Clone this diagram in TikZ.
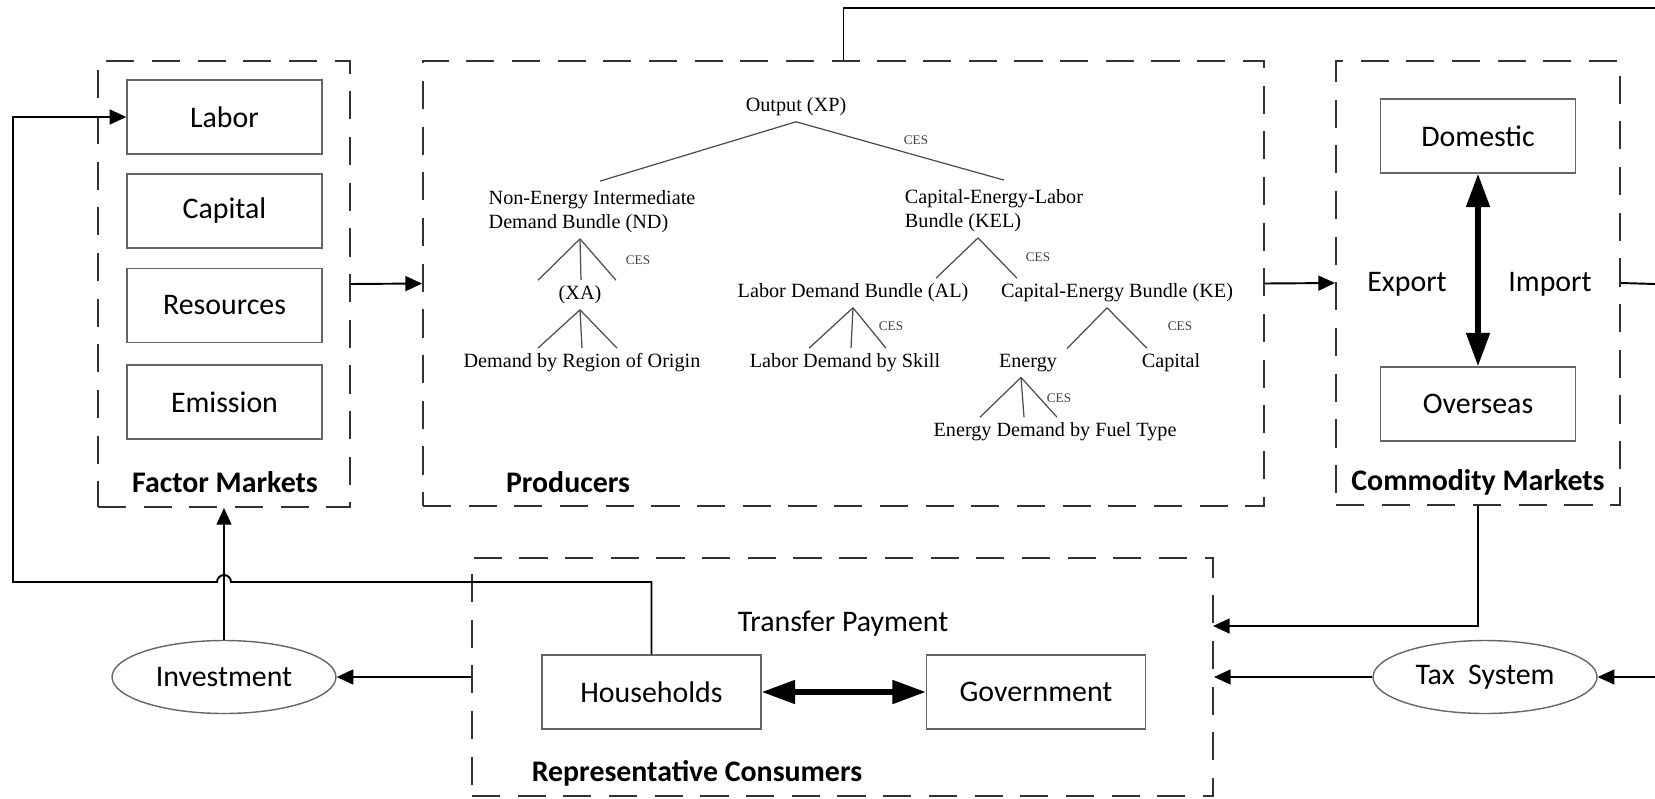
\documentclass[tikz,border=0pt]{standalone}
\usepackage{fontspec}
\setmainfont{Carlito}
\newfontfamily\treefont{Liberation Serif}
\usetikzlibrary{arrows.meta}
\usetikzlibrary{positioning}
\usetikzlibrary{fit, calc, shapes.geometric}

\tikzset{
  group/.style={draw=black!80, line width=1.1pt, dash pattern=on 16pt off 10pt, inner sep=0pt},
  unit/.style={draw=black!60, line width=0.8pt, minimum width=3.9cm, minimum height=1.48cm, font=\fontsize{17}{20}\selectfont},
  oval/.style={ellipse, draw=black!60, line width=0.8pt, minimum width=4.48cm, minimum height=1.46cm, font=\fontsize{17}{20}\selectfont},
  title/.style={font=\fontsize{17}{20}\selectfont\bfseries},
  plain/.style={font=\fontsize{17}{20}\selectfont},
  leaf/.style={font=\treefont\fontsize{11.5}{13.8}\selectfont, inner sep=3pt, align=left},
  ces/.style={font=\treefont\fontsize{7.5}{9}\selectfont, text=black!75},
  branch/.style={draw=black!70, line width=0.7pt},
  link/.style={draw=black, line width=1.1pt},
  flow/.style={link, -{Triangle[length=9.5pt,width=8.5pt]}},
  trade/.style={draw=black, line width=3pt, {Triangle[length=19pt,width=13pt]}-{Triangle[length=19pt,width=13pt]}}
}

\begin{document}
\begin{tikzpicture}[x=0.02cm,y=-0.02cm]
\useasboundingbox (0,0) rectangle (1655,798);

% market and agent groups
\node[group, fit={(98,61) (350,507)}] (fm) {};
\node[group, fit={(423,61) (1264,506)}] (prod) {};
\node[group, fit={(1336,61) (1620,505)}] (cm) {};
\node[group, fit={(472,558) (1213,796)}] (rc) {};

\node[title] (fmtitle) at (225,482) {Factor Markets};
\node[title] (prodtitle) at (568,482) {Producers};
\node[title] (cmtitle) at (1478,482) {Commodity Markets};
\node[title] (rctitle) at (697,773) {Representative Consumers};

% factor markets
\node[unit] (labor) at (224.5,117) {Labor};
\node[unit] (capital) at (224.5,211) {Capital};
\node[unit] (resources) at (224.5,305.5) {Resources};
\node[unit] (emission) at (224.5,402) {Emission};

% commodity markets
\node[unit] (dom) at (1478,136) {Domestic};
\node[unit] (ovs) at (1478,404) {Overseas};
\node[plain] (export) at (1407,284) {Export};
\node[plain] (import) at (1550,284) {Import};
\draw[trade] (dom.south) -- (ovs.north);

% representative consumers
\node[unit, minimum width=4.38cm] (hh) at (651.5,692) {Households};
\node[unit, minimum width=4.38cm] (gov) at (1036,692) {Government};
\node[plain] (transfer) at (843,624) {Transfer Payment};
\draw[trade] (hh.east) -- (gov.west);

\node[oval] (inv) at (224,677) {Investment};
\node[oval] (tax) at (1485,677) {Tax\ \ System};

% production tree
\node[leaf] (xp) at (796,107) {Output (XP)};
\node[leaf] (nd) at (592,212) {Non-Energy Intermediate\\Demand Bundle (ND)};
\node[leaf] (kel) at (994,211) {Capital-Energy-Labor\\Bundle (KEL)};
\node[leaf] (xa) at (580,295) {(XA)};
\node[leaf] (reg) at (582,363) {Demand by Region of Origin};
\node[leaf] (al) at (853,293) {Labor Demand Bundle (AL)};
\node[leaf] (ke) at (1117,293) {Capital-Energy Bundle (KE)};
\node[leaf] (skill) at (845,363) {Labor Demand by Skill};
\node[leaf] (energy) at (1028,363) {Energy};
\node[leaf] (kapital) at (1171,363) {Capital};
\node[leaf] (fuel) at (1055,432) {Energy Demand by Fuel Type};

\node[ces] (ces1) at (916,140) {CES};
\node[ces] (ces2) at (638,260) {CES};
\node[ces] (ces3) at (1038,257) {CES};
\node[ces] (ces4) at (891,326) {CES};
\node[ces] (ces5) at (1180,326) {CES};
\node[ces] (ces6) at (1059,398) {CES};

\draw[branch] (xp.south) -- ($(nd.north)+(8,-4)$);
\draw[branch] (xp.south) -- ($(kel.north)+(10,-4)$);
\draw[branch] (xa |- nd.south) -- ($(xa.north)+(-42,0)$);
\draw[branch] (xa |- nd.south) -- ($(xa.north)+(1,0)$);
\draw[branch] (xa |- nd.south) -- ($(xa.north)+(36,0)$);
\draw[branch] (xa.south) -- ($(reg.north)+(-44,0)$);
\draw[branch] (xa.south) -- ($(reg.north)+(0,0)$);
\draw[branch] (xa.south) -- ($(reg.north)+(35,0)$);
\draw[branch] ($(kel.south)+(-16,0)$) -- ($(al.north)+(83,0)$);
\draw[branch] ($(kel.south)+(-16,0)$) -- ($(ke.north)+(-100,0)$);
\draw[branch] (al.south) -- ($(skill.north)+(-36,0)$);
\draw[branch] (al.south) -- ($(skill.north)+(6,0)$);
\draw[branch] (al.south) -- ($(skill.north)+(41,0)$);
\draw[branch] ($(ke.south)+(-10,0)$) -- ($(energy.north)+(39,0)$);
\draw[branch] ($(ke.south)+(-10,0)$) -- ($(kapital.north)+(-24,0)$);
\draw[branch] ($(energy.south)+(-7,0)$) -- ($(fuel.north)+(-75,0)$);
\draw[branch] ($(energy.south)+(-7,0)$) -- ($(fuel.north)+(-31,0)$);
\draw[branch] ($(energy.south)+(-7,0)$) -- ($(fuel.north)+(2,0)$);

% flows between blocks
\coordinate (topout) at (1655,8);
\coordinate (impout) at (1655,284);
\coordinate (taxin) at (1655,677);
\coordinate (rcin) at (1213,626);
\coordinate (loopL) at (13,582);
\coordinate (loopT) at (13,117);

\draw[flow] (fm.east) -- (prod.west);
\draw[flow] (prod.east) -- (cm.west);
\draw[link] (prod.north) |- (topout);
\draw[link] (cm.east) -- (impout);
\draw[flow] (cm.south) |- (rcin);
\draw[flow] (taxin) -- (tax.east);
\draw[flow] (tax.west) -- (rc.east);
\draw[flow] (rc.west) -- (inv.east);
\draw[flow] (inv.north) -- (fm.south);
\draw[flow] (hh.north) |- ($(inv.north |- loopL)+(7,0)$) arc[start angle=0,end angle=180,radius=0.14cm] -- (loopL) -- (loopT) -- (labor.west);

\end{tikzpicture}
\end{document}
